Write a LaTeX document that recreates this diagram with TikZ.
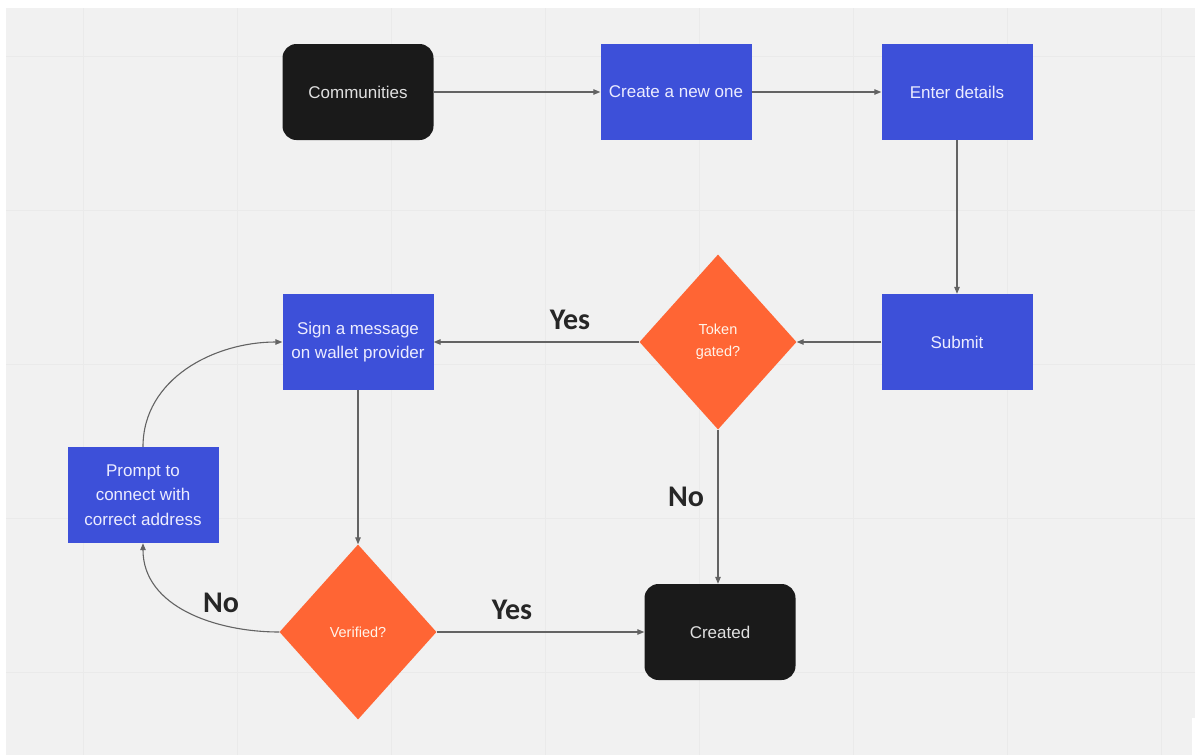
\documentclass[tikz,border=0pt]{standalone}
\usepackage{fontspec}
\setmainfont{Liberation Sans}
\newfontfamily\labelfont{Carlito}
\usetikzlibrary{shapes.geometric,arrows.meta}
\definecolor{bgc}{HTML}{F1F1F1}
\definecolor{gridc}{HTML}{EAEAEA}
\definecolor{bluebox}{HTML}{3D50D9}
\definecolor{orangebox}{HTML}{FF6534}
\definecolor{darkbox}{HTML}{1A1A1A}
\definecolor{linec}{HTML}{636363}
\definecolor{boxtext}{HTML}{ECECFF}
\tikzset{
  base/.style={inner sep=0pt, align=center, font=\fontsize{17}{24.5}\selectfont, text=boxtext},
  bluenode/.style={base, rectangle, fill=bluebox, minimum width=151pt, minimum height=96pt},
  darknode/.style={base, rectangle, rounded corners=14pt, fill=darkbox, text=white!88!black, minimum width=151pt, minimum height=96pt},
  decision/.style={base, diamond, aspect=0.9, fill=orangebox, text=white!92!orange, minimum width=157pt, minimum height=175pt, font=\fontsize{14.5}{22}\selectfont},
  conn/.style={draw=linec, line width=1.1pt, -{Triangle[length=7pt,width=5.5pt]}},
  edgelabel/.style={font=\labelfont\bfseries\fontsize{30}{30}\selectfont, text=black!85}
}
\begin{document}
\begin{tikzpicture}[x=1pt,y=-1pt]
\useasboundingbox (0,0) rectangle (1203,755);
\fill[white] (0,0) rectangle (1203,755);
\fill[bgc] (6,8) rectangle (1195,755);
\foreach \gx in {83,237,391,545,699,853,1007,1161}
  \draw[gridc, line width=0.8pt] (\gx,8) -- (\gx,755);
\foreach \gy in {56,210,364,518,672}
  \draw[gridc, line width=0.8pt] (6,\gy) -- (1195,\gy);
\fill[white] (1192,718) rectangle (1203,755);

\node[darknode] (comm) at (358,92) {Communities};
\node[bluenode] (create) at (676,92) {Create a new one};
\node[bluenode] (enter) at (957,92) {Enter details};
\node[bluenode] (submit) at (957,342) {Submit};
\node[decision] (token) at (718,342) {Token\\gated?};
\node[bluenode] (sign) at (358,342) {Sign a message\\on wallet provider};
\node[bluenode] (prompt) at (143,495) {Prompt to\\connect with\\correct address};
\node[decision] (verif) at (358,632) {Verified?};
\node[darknode] (created) at (720,632) {Created};

\draw[conn] (comm) -- (create);
\draw[conn] (create) -- (enter);
\draw[conn] (enter) -- (submit);
\draw[conn] (submit) -- (token);
\draw[conn] (token) -- (sign);
\draw[conn] (token.south) -- (token.south |- created.north);
\draw[conn] (sign) -- (verif);
\draw[conn] (verif) -- (created);
\draw[conn] (verif.west) to[out=180,in=-90] (prompt.south);
\draw[conn] (prompt.north) to[out=90,in=180] (sign.west);

\node[edgelabel] (lyes1) at (570,320) {Yes};
\node[edgelabel] (lno1) at (686,497) {No};
\node[edgelabel] (lno2) at (221,603) {No};
\node[edgelabel] (lyes2) at (512,610) {Yes};
\end{tikzpicture}
\end{document}
